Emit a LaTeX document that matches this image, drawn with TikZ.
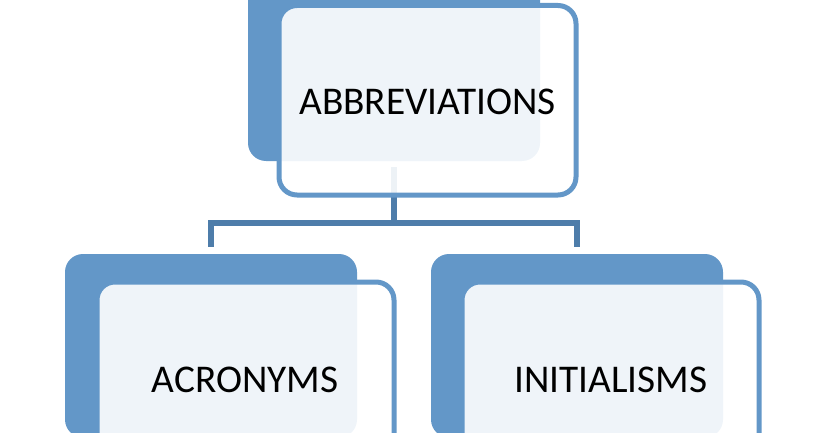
\documentclass[tikz,border=0pt]{standalone}
\usepackage{fontspec}
\setmainfont{Carlito}
\usetikzlibrary{calc}
\definecolor{boxblue}{RGB}{99,151,200}
\definecolor{connblue}{RGB}{78,125,170}
\tikzset{
  backbox/.style={rectangle, rounded corners=18pt, fill=boxblue, draw=none,
    minimum width=292pt, minimum height=183.5pt, inner sep=0pt},
  frontbox/.style={rectangle, rounded corners=18pt, fill=white, fill opacity=0.9,
    draw=boxblue, draw opacity=1, line width=5pt,
    minimum width=297pt, minimum height=189.5pt, inner sep=0pt},
  conn/.style={draw=connblue, line width=5.5pt, line join=miter},
  lbl/.style={anchor=base, font=\fontsize{39.3}{47}\selectfont, text=black, inner sep=0pt}
}
\begin{document}
\begin{tikzpicture}[x=1pt,y=-1pt]
\useasboundingbox (0,0) rectangle (824,433);
\clip (0,0) rectangle (824,433);
% back boxes
\node[backbox] (tb) at (394,69.25) {};
\node[backbox] (bl) at (211,345.75) {};
\node[backbox] (br) at (577,345.75) {};
% connectors
\coordinate (j) at (394,223);
\draw[conn] ($(tb.south)+(0,6)$) -- (j);
\draw[conn] ($(bl.north)+(0,-7)$) |- (j) -| ($(br.north)+(0,-7)$);
% front boxes
\node[frontbox] (tf) at (427.5,100.25) {};
\node[frontbox] (blf) at (245.5,376.75) {};
\node[frontbox] (brf) at (610.5,376.75) {};
% labels
\node[lbl] (t1) at (427.5,115) {ABBREVIATIONS};
\node[lbl] (t2) at (245,392) {ACRONYMS};
\node[lbl] (t3) at (611,392) {INITIALISMS};
\end{tikzpicture}
\end{document}
